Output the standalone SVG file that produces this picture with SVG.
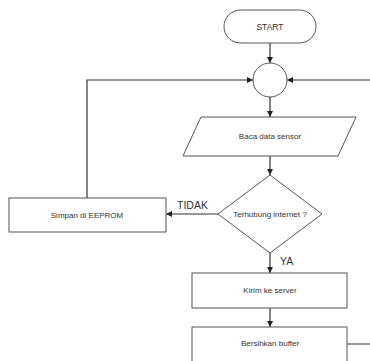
<svg xmlns="http://www.w3.org/2000/svg" width="370" height="361" viewBox="0 0 370 361">
<style>
.n{fill:#fff;stroke:#555;stroke-width:1}
.t{font-family:"Liberation Sans",Arial,sans-serif;font-size:8px;fill:#333;text-anchor:middle;dominant-baseline:central}
.l{font-family:"Liberation Sans",Arial,sans-serif;font-size:10.5px;fill:#333}
.c{fill:none;stroke:#333;stroke-width:1.2}
</style>
<defs>
<marker id="a" viewBox="0 0 10 10" refX="10" refY="5" markerWidth="6" markerHeight="6" markerUnits="userSpaceOnUse" orient="auto">
<path d="M0,0L10,5L0,10z" fill="#222"/>
</marker>
</defs>
<rect width="370" height="361" fill="#fff"/>
<g id="connectors">
<path class="c" d="M270,43V63" marker-end="url(#a)"/>
<path class="c" d="M270,97V117" marker-end="url(#a)"/>
<path class="c" d="M270,156V175" marker-end="url(#a)"/>
<path class="c" d="M218,214H166" marker-end="url(#a)"/>
<path class="c" d="M270,253V273" marker-end="url(#a)"/>
<path class="c" d="M270,308V327" marker-end="url(#a)"/>
<path class="c" d="M87,198V80H253" marker-end="url(#a)"/>
<path class="c" d="M347,344H375V80H287" marker-end="url(#a)"/>
<text class="l" x="177" y="209">TIDAK</text>
<text class="l" x="280" y="265">YA</text>
</g>
<g id="start">
<rect class="n" x="224" y="10" width="92" height="33" rx="16.5"/>
<text class="t" x="270" y="27" style="font-size:8.5px">START</text>
</g>
<g id="junction">
<circle class="n" cx="270" cy="80" r="17"/>
</g>
<g id="baca">
<polygon class="n" points="201,117 356,117 338,156 183,156"/>
<text class="t" x="270" y="136">Baca data sensor</text>
</g>
<g id="terhubung">
<polygon class="n" points="270,175 322,214 270,253 218,214"/>
<text class="t" x="270" y="214">Terhubung internet ?</text>
</g>
<g id="simpan">
<rect class="n" x="9" y="198" width="157" height="34"/>
<text class="t" x="87" y="215">Simpan di EEPROM</text>
</g>
<g id="kirim">
<rect class="n" x="192" y="273" width="155" height="35"/>
<text class="t" x="270" y="290">Kirim ke server</text>
</g>
<g id="bersihkan">
<rect class="n" x="192" y="327" width="155" height="40"/>
<text class="t" x="270" y="343">Bersihkan buffer</text>
</g>
</svg>
